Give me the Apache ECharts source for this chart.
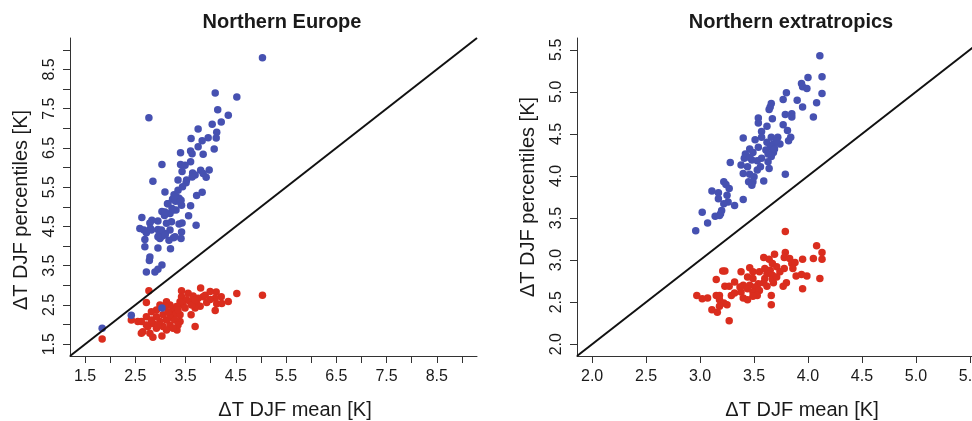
<!DOCTYPE html>
<html>
<head>
<meta charset="utf-8">
<script src="https://cdn.jsdelivr.net/npm/echarts@6/dist/echarts.min.js"></script>
<style>
html,body{margin:0;padding:0;background:#fff;overflow:hidden;width:972px;height:421px;}
#c{width:1000px;height:421px;}
</style>
</head>
<body>
<div id="c"></div>
<script>
// ---------- DATA ----------
const panelTitles = ['Northern Europe', 'Northern extratropics'];
const xTitle = 'ΔT DJF mean [K]';
const yTitle = 'ΔT DJF percentiles [K]';

// axis ranges (R style, 4% extension of 1.5..9 and 2..5.5)
const europeRange = [1.2, 9.3];
const extraRange = [1.86, 5.64];

const europeTicks = [1.5, 2, 2.5, 3, 3.5, 4, 4.5, 5, 5.5, 6, 6.5, 7, 7.5, 8, 8.5, 9];
const europeLabels = [1.5, 2.5, 3.5, 4.5, 5.5, 6.5, 7.5, 8.5];
const extraTicks = [2, 2.5, 3, 3.5, 4, 4.5, 5, 5.5];
const extraLabels = [2, 2.5, 3, 3.5, 4, 4.5, 5, 5.5];

// Northern Europe: upper percentile (blue)
const europeUpper = [
[5.03,8.80],[4.09,7.90],[4.52,7.80],[2.77,7.27],[4.14,7.47],[4.35,7.33],[4.21,7.16],[4.03,7.10],
[3.75,6.98],[4.12,6.90],[3.95,6.76],[4.11,6.75],[3.61,6.74],[3.83,6.68],[3.75,6.53],[4.07,6.47],
[3.60,6.42],[3.40,6.38],[3.85,6.34],[3.63,6.35],[3.60,6.15],[3.03,6.08],[3.40,6.08],[3.49,6.06],
[3.80,5.93],[3.97,5.94],[3.43,5.90],[3.64,5.86],[3.85,5.85],[3.69,5.81],[3.63,5.76],[3.91,5.75],
[2.85,5.65],[3.35,5.68],[3.51,5.61],[3.09,5.38],[3.83,5.37],[3.72,5.29],[3.27,5.31],[3.32,5.25],
[3.37,5.22],[3.24,5.19],[3.30,5.14],[3.41,5.17],[3.14,5.08],[3.42,5.04],[3.60,5.03],[3.23,4.96],
[3.31,4.92],[3.03,4.88],[3.19,4.83],[3.08,4.78],[3.56,4.77],[2.63,4.73],[2.95,4.64],[2.83,4.66],
[2.79,4.59],[3.22,4.62],[3.43,4.59],[3.37,4.56],[3.71,4.53],[2.59,4.45],[2.67,4.41],[2.80,4.45],
[2.95,4.42],[3.19,4.41],[3.42,4.36],[2.98,4.32],[3.10,4.32],[2.72,4.34],[3.03,4.25],[3.26,4.21],
[2.99,4.19],[3.17,4.15],[2.69,4.17],[3.41,4.19],[2.69,3.98],[2.95,3.95],[3.20,3.93],[2.79,3.72],
[2.78,3.63],[3.03,3.52],[2.95,3.41],[2.72,3.34],[2.89,3.34],[2.42,2.24],[3.03,2.42],[1.84,1.91],
[3.15,5.08],[3.29,5.25],[3.35,5.42],[3.39,5.13],[3.25,4.92],[3.09,4.87],[3.12,4.58],[3.02,4.41],
[3.09,4.28],[3.29,4.24],[2.82,4.41],[2.95,4.24],[3.44,5.51],[3.52,5.68]
];

// Northern Europe: lower percentile (red)
const europeLower = [
[5.03,2.75],[4.52,2.79],[4.35,2.59],[4.21,2.71],[4.11,2.83],[4.09,2.67],[4.12,2.53],[4.09,2.36],
[3.99,2.64],[3.92,2.56],[3.80,2.93],[3.85,2.71],[3.79,2.47],[3.72,2.54],[3.65,2.73],[3.59,2.58],
[3.69,2.42],[3.61,2.25],[3.69,1.95],[3.42,2.86],[3.42,2.71],[3.52,2.63],[3.45,2.50],[3.39,2.58],
[3.32,2.46],[3.25,2.37],[3.19,2.50],[3.12,2.58],[3.09,2.46],[2.99,2.50],[2.92,2.37],[2.82,2.33],
[2.72,2.20],[2.62,2.08],[2.42,2.12],[2.77,2.86],[2.72,2.56],[2.65,1.82],[2.62,1.78],[2.85,1.68],
[3.03,1.71],[3.33,1.86],[1.84,1.63],[2.92,1.91],[3.05,1.95],[3.19,1.99],[3.39,2.08],[3.25,2.16],
[3.12,2.12],[2.99,2.08],[2.85,2.03],[2.75,1.95],[3.05,2.25],[3.19,2.25],[3.32,2.29],[3.39,2.25],
[3.29,2.12],[3.15,2.33],[2.92,2.20],[2.82,2.12],[3.49,2.42],[3.62,2.50],[3.75,2.67],[3.89,2.75],
[3.99,2.84],[3.55,2.80],[3.35,2.37],[3.12,1.86],[2.79,1.78],[3.35,1.99],[3.25,1.91],[2.95,1.99],
[2.72,1.99],[2.55,2.08],[3.69,2.63],[4.22,2.54]
];

// Northern extratropics: upper percentile (blue)
const extraUpper = [
[4.11,5.43],[4.13,5.18],[4.00,5.17],[4.13,4.98],[3.94,5.10],[3.95,5.06],[3.99,5.04],[3.80,4.99],
[3.77,4.91],[3.90,4.90],[4.08,4.87],[3.95,4.82],[3.66,4.86],[3.65,4.82],[3.64,4.79],[3.85,4.74],
[3.85,4.70],[3.79,4.73],[4.05,4.70],[3.54,4.69],[3.67,4.68],[3.54,4.63],[3.77,4.61],[3.62,4.59],
[3.57,4.53],[3.81,4.54],[3.40,4.45],[3.51,4.43],[3.57,4.46],[3.66,4.46],[3.72,4.46],[3.84,4.46],
[3.82,4.42],[3.62,4.40],[3.68,4.38],[3.65,4.34],[3.74,4.38],[3.54,4.34],[3.46,4.32],[3.61,4.31],
[3.68,4.28],[3.49,4.28],[3.42,4.26],[3.66,4.23],[3.57,4.21],[3.41,4.21],[3.48,4.19],[3.28,4.16],
[3.53,4.18],[3.63,4.17],[3.38,4.13],[3.44,4.11],[3.64,4.09],[3.53,4.07],[3.46,4.02],[3.79,4.02],
[3.50,3.99],[3.45,3.93],[3.49,3.93],[3.59,3.94],[3.22,3.93],[3.24,3.90],[3.27,3.85],[3.11,3.82],
[3.17,3.80],[3.25,3.77],[3.17,3.73],[3.40,3.72],[3.26,3.69],[3.22,3.67],[3.32,3.65],[3.20,3.59],
[3.02,3.57],[3.19,3.55],[3.14,3.52],[3.18,3.53],[3.07,3.44],[2.96,3.35],
[3.71,4.42],[3.69,4.32],[3.63,4.26],[3.46,4.22],[3.40,4.03],[3.56,4.11],[3.48,3.89]
];

// Northern extratropics: lower percentile (red)
const extraLower = [
[3.79,3.34],[4.08,3.17],[4.13,3.09],[4.13,3.01],[4.05,3.02],[3.95,3.01],[3.79,3.09],[3.69,3.07],
[3.59,3.03],[3.64,3.01],[3.78,3.03],[3.83,3.02],[3.85,2.96],[3.88,2.97],[3.86,2.90],[3.67,2.96],
[3.71,2.92],[3.74,2.86],[3.78,2.90],[3.65,2.88],[3.62,2.84],[3.67,2.82],[3.60,2.90],[3.46,2.91],
[3.49,2.86],[3.55,2.86],[3.38,2.86],[3.23,2.87],[3.21,2.87],[3.94,2.83],[3.99,2.81],[4.11,2.78],
[3.89,2.81],[3.80,2.73],[3.68,2.73],[3.59,2.73],[3.49,2.78],[3.44,2.80],[3.32,2.74],[3.15,2.77],
[3.67,2.77],[3.54,2.72],[3.46,2.70],[3.40,2.70],[3.77,2.69],[3.95,2.66],[3.62,2.69],[3.51,2.68],
[3.23,2.69],[3.27,2.69],[3.38,2.62],[3.49,2.62],[3.55,2.64],[3.44,2.66],[3.66,2.58],[3.53,2.58],
[3.49,2.57],[2.97,2.58],[3.07,2.55],[3.02,2.54],[3.15,2.58],[3.18,2.58],[3.29,2.58],[3.40,2.55],
[3.44,2.53],[3.18,2.53],[3.22,2.49],[3.25,2.47],[3.18,2.45],[3.11,2.41],[3.16,2.38],[3.66,2.47],
[3.27,2.28],[3.32,2.61],[3.37,2.68],[3.71,2.80],[3.60,2.78]
];

// ---------- STYLE ----------
const BLUE = '#4651b1';
const RED = '#da2d1e';
const FONT = '"Liberation Sans", Arial, Helvetica, sans-serif';
const TEXT = '#1a1a1a';
const DOT = 7.5;

function xAxisFor(idx, range, ticks, labels) {
  return {
    gridIndex: idx, type: 'value', min: range[0], max: range[1],
    axisLine: { show: true, onZero: false, lineStyle: { color: '#333', width: 1 } },
    axisTick: { show: true, length: 7, customValues: ticks, lineStyle: { color: '#333' } },
    axisLabel: { show: true, customValues: labels, margin: 13, fontSize: 16, color: TEXT, fontFamily: FONT,
      formatter: v => v.toFixed(1) },
    splitLine: { show: false }
  };
}
function yAxisFor(idx, range, ticks, labels) {
  return {
    gridIndex: idx, type: 'value', min: range[0], max: range[1],
    axisLine: { show: true, onZero: false, lineStyle: { color: '#333', width: 1 } },
    axisTick: { show: true, length: 7, customValues: ticks, lineStyle: { color: '#333' } },
    axisLabel: { show: true, customValues: labels, rotate: 90, margin: 12, fontSize: 16, color: TEXT, fontFamily: FONT,
      formatter: v => v.toFixed(1) },
    splitLine: { show: false }
  };
}

const chart = echarts.init(document.getElementById('c'), null, { renderer: 'canvas', width: 1000, height: 421 });
chart.setOption({
  animation: false,
  backgroundColor: '#fff',
  grid: [
    { left: 70, top: 38, width: 407, height: 318 },
    { left: 577, top: 38, width: 408, height: 318 }
  ],
  xAxis: [
    xAxisFor(0, europeRange, europeTicks, europeLabels),
    xAxisFor(1, extraRange, extraTicks, extraLabels)
  ],
  yAxis: [
    yAxisFor(0, europeRange, europeTicks, europeLabels),
    yAxisFor(1, extraRange, extraTicks, extraLabels)
  ],
  graphic: [
    { type: 'text', x: 282, y: 22, style: { text: panelTitles[0], fontSize: 20, fontWeight: 'bold', fontFamily: FONT, fill: TEXT, align: 'center', verticalAlign: 'middle' } },
    { type: 'text', x: 791, y: 22, style: { text: panelTitles[1], fontSize: 20, fontWeight: 'bold', fontFamily: FONT, fill: TEXT, align: 'center', verticalAlign: 'middle' } },
    { type: 'text', x: 295, y: 410, style: { text: xTitle, fontSize: 20, fontFamily: FONT, fill: TEXT, align: 'center', verticalAlign: 'middle' } },
    { type: 'text', x: 802, y: 410, style: { text: xTitle, fontSize: 20, fontFamily: FONT, fill: TEXT, align: 'center', verticalAlign: 'middle' } },
    { type: 'text', x: 21, y: 210, rotation: Math.PI / 2, style: { text: yTitle, fontSize: 20, fontFamily: FONT, fill: TEXT, align: 'center', verticalAlign: 'middle' } },
    { type: 'text', x: 528, y: 197, rotation: Math.PI / 2, style: { text: yTitle, fontSize: 20, fontFamily: FONT, fill: TEXT, align: 'center', verticalAlign: 'middle' } }
  ],
  series: [
    { type: 'scatter', xAxisIndex: 0, yAxisIndex: 0, data: europeLower, symbolSize: DOT, itemStyle: { color: RED, opacity: 1 }, z: 2 },
    { type: 'scatter', xAxisIndex: 0, yAxisIndex: 0, data: europeUpper, symbolSize: DOT, itemStyle: { color: BLUE, opacity: 1 }, z: 3 },
    { type: 'line', xAxisIndex: 0, yAxisIndex: 0, data: [[europeRange[0], europeRange[0]], [europeRange[1], europeRange[1]]],
      symbol: 'none', lineStyle: { color: '#111', width: 2 }, z: 4, silent: true },
    { type: 'scatter', xAxisIndex: 1, yAxisIndex: 1, data: extraLower, symbolSize: DOT, itemStyle: { color: RED, opacity: 1 }, z: 2 },
    { type: 'scatter', xAxisIndex: 1, yAxisIndex: 1, data: extraUpper, symbolSize: DOT, itemStyle: { color: BLUE, opacity: 1 }, z: 3 },
    { type: 'line', xAxisIndex: 1, yAxisIndex: 1, data: [[extraRange[0], extraRange[0]], [extraRange[1], extraRange[1]]],
      symbol: 'none', lineStyle: { color: '#111', width: 2 }, z: 4, silent: true }
  ]
});
</script>
</body>
</html>
